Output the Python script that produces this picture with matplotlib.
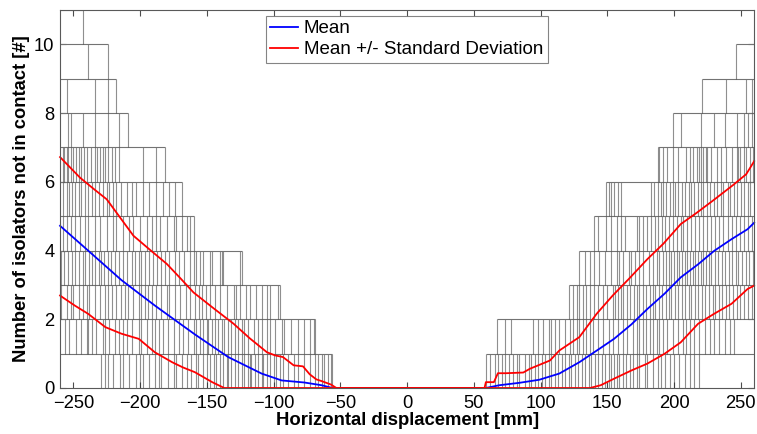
import matplotlib
matplotlib.use("Agg")
import matplotlib.pyplot as plt

plt.rcParams["font.family"] = ["Liberation Sans", "DejaVu Sans"]

# step positions [mm] of the grey simulation curves, one list per band (k-1 -> k)
left_steps = [
    [-229, -226, -224, -220, -215, -213, -208, -203, -200, -198, -193, -189, -186, -184, -179, -175,
     -173, -169, -165, -162, -158, -157, -153, -150, -148, -145, -143, -140, -138, -135, -134, -132,
     -129, -127, -124, -122, -119, -118, -117, -114, -112, -109, -108, -105, -103, -100, -98, -95,
     -93, -89, -85, -82, -77, -73, -69, -67, -64, -62, -59, -57, -56],
    [-256, -253, -248, -244, -240, -239, -236, -233, -228, -226, -223, -219, -216, -213, -210, -206,
     -201, -199, -195, -191, -189, -186, -183, -179, -175, -171, -168, -164, -160, -158, -155, -153,
     -150, -149, -146, -144, -142, -139, -137, -134, -132, -129, -127, -124, -122, -119, -115, -112,
     -109, -105, -103, -99, -94, -92, -87, -82, -77, -73, -70, -69],
    [-259, -255, -252, -250, -246, -243, -240, -238, -234, -230, -226, -224, -221, -218, -214, -211,
     -209, -205, -201, -199, -196, -194, -191, -188, -184, -180, -178, -174, -170, -166, -163, -159,
     -156, -154, -151, -148, -144, -140, -135, -130, -128, -125, -121, -118, -113, -109, -105, -103,
     -97, -95],
    [-259, -257, -254, -251, -249, -246, -243, -241, -238, -236, -234, -231, -229, -227, -224, -222,
     -219, -216, -213, -210, -206, -204, -201, -199, -196, -193, -190, -187, -184, -181, -178, -174,
     -171, -167, -163, -160, -158, -155, -153, -148, -146, -140, -139, -138, -125, -124],
    [-258, -255, -252, -249, -245, -241, -239, -234, -230, -225, -220, -218, -213, -208, -205, -200,
     -195, -191, -188, -185, -180, -175, -173, -169, -165, -163, -160],
    [-258, -255, -253, -251, -249, -246, -244, -241, -239, -236, -234, -231, -228, -225, -223, -220,
     -218, -214, -210, -206, -203, -198, -193, -188, -183, -178, -174, -169],
    [-258, -257, -255, -254, -252, -250, -248, -246, -244, -242, -240, -237, -234, -232, -230, -228,
     -226, -224, -221, -219, -216, -198, -188, -181],
    [-254, -252, -243, -234, -224, -216, -209],
    [-255, -234, -224, -218],
    [-239, -224],
    [-243],
]

right_steps = [
    [59, 62, 66, 68, 71, 73, 76, 79, 82, 84, 88, 91, 93, 96, 98, 101, 103, 106, 108, 111, 113, 116,
     118, 121, 123, 126, 128, 131, 133, 136, 138, 141, 143, 146, 148, 151, 153, 155, 157, 159, 162,
     164, 167, 169, 172, 174, 178, 180, 184, 188, 190, 193, 197, 200, 204, 208, 212, 215, 219],
    [67, 73, 78, 94, 98, 102, 106, 108, 111, 114, 118, 122, 124, 127, 129, 132, 134, 137, 139, 143,
     147, 151, 154, 158, 162, 165, 169, 172, 174, 177, 179, 182, 184, 187, 189, 192, 195, 199, 203,
     207, 209, 212, 215, 219, 223, 227, 230, 234, 238, 242, 245],
    [121, 124, 127, 129, 132, 134, 137, 140, 143, 147, 150, 154, 156, 158, 160, 162, 165, 167, 170,
     172, 174, 177, 179, 182, 184, 186, 189, 191, 194, 196, 198, 201, 203, 206, 208, 211, 213, 216,
     218, 221, 223, 226, 229, 231, 234, 236, 239, 241, 244, 247, 249, 252, 255, 258],
    [129, 133, 137, 140, 144, 148, 153, 157, 159, 162, 166, 168, 171, 174, 177, 181, 184, 187, 189,
     192, 194, 196, 198, 200, 202, 204, 206, 208, 210, 212, 214, 216, 218, 220, 222, 224, 226, 228,
     231, 233, 236, 238, 241, 243, 246, 248, 251, 254, 256, 259],
    [140, 143, 149, 153, 157, 160, 163, 172, 174, 177, 180, 183, 186, 188, 191, 193, 196, 199, 202,
     205, 207, 210, 213, 216, 219, 222, 225, 228, 231, 234, 237, 240, 243, 246, 249, 252, 255, 258],
    [149, 151, 153, 155, 158, 160, 183, 185, 188, 190, 192, 194, 197, 199, 201, 203, 206, 208, 211,
     213, 215, 218, 220, 222, 225, 227, 230, 232, 235, 237, 240, 242, 245, 247, 250, 252, 255, 257],
    [188, 189, 192, 195, 199, 203, 209, 212, 214, 217, 219, 220, 222, 224, 225, 228, 232, 235, 239,
     243, 247, 248, 249, 252, 254, 257, 259],
    [199, 205, 220, 230, 238, 247, 252, 255, 258],
    [221, 239, 254, 258],
    [246],
]

# mean and mean +/- std curves
mean_x = [-260, -239, -214, -189, -159, -134, -109, -94, -77, -64, -56,
          59, 69, 84, 99, 114, 129, 144, 155, 168, 180, 193, 205, 218, 230, 243, 255, 260]
mean_y = [4.72, 4.0, 3.14, 2.40, 1.56, 0.90, 0.42, 0.22, 0.16, 0.08, 0.0,
          0.0, 0.08, 0.15, 0.24, 0.42, 0.75, 1.14, 1.43, 1.85, 2.30, 2.75, 3.22, 3.60, 3.99, 4.33, 4.62, 4.81]

upper_x = [-260, -245, -235, -225, -215, -205, -192, -180, -170, -160, -145, -130, -118, -105, -99,
           -93, -85, -78, -73, -68, -64, -57, -53,
           58, 59, 65, 68, 74, 87, 92, 107, 114, 129, 142, 154, 166, 180, 192, 205, 217, 229, 244, 254, 260]
upper_y = [6.72, 6.12, 5.80, 5.49, 4.96, 4.43, 4.00, 3.61, 3.20, 2.78, 2.32, 1.87, 1.45, 1.04, 0.95,
           0.90, 0.66, 0.63, 0.40, 0.25, 0.20, 0.10, 0.0,
           0.0, 0.17, 0.17, 0.43, 0.43, 0.45, 0.56, 0.80, 1.09, 1.48, 2.16, 2.69, 3.17, 3.75, 4.20, 4.77,
           5.10, 5.45, 5.90, 6.22, 6.60]

lower_x = [-260, -249, -239, -226, -214, -201, -189, -176, -168, -159, -146, -137,
           137, 145, 155, 168, 180, 193, 205, 218, 230, 243, 255, 260]
lower_y = [2.69, 2.40, 2.16, 1.77, 1.58, 1.43, 1.04, 0.75, 0.60, 0.46, 0.17, 0.0,
           0.0, 0.08, 0.27, 0.51, 0.71, 1.0, 1.33, 1.87, 2.16, 2.45, 2.88, 2.98]

XMIN, XMAX = -260, 260

fig = plt.figure(figsize=(7.57, 4.34), dpi=100)
ax = fig.add_axes([0.0793, 0.106, 0.917, 0.871])

grey = dict(color="0.2", lw=0.8, alpha=0.55)
for k, xs in enumerate(left_steps, start=1):
    ax.vlines(xs, k - 1, k, **grey)
    ax.hlines(k, XMIN, max(xs), color="0.45", lw=0.8)
for k, xs in enumerate(right_steps, start=1):
    ax.vlines(xs, k - 1, k, **grey)
    ax.hlines(k, min(xs), XMAX, color="0.45", lw=0.8)

ax.plot(mean_x, mean_y, color="blue", lw=1.3, label="Mean", clip_on=False)
ax.plot(upper_x, upper_y, color="red", lw=1.3, label="Mean +/- Standard Deviation", clip_on=False)
ax.plot(lower_x, lower_y, color="red", lw=1.3, clip_on=False)

ax.set_xlim(XMIN, XMAX)
ax.set_ylim(0, 11)
ax.set_xticks(range(-250, 251, 50))
ax.set_yticks(range(0, 11, 2))
ax.tick_params(direction="in", top=True, right=True, labelsize=13.2, length=4, color="0.3")
ax.tick_params(axis="x", pad=5)
ax.tick_params(axis="y", pad=4)
for s in ax.spines.values():
    s.set_color("0.35")
    s.set_linewidth(0.8)

ax.set_xlabel("Horizontal displacement [mm]", fontsize=13.3, fontweight="bold", labelpad=0)
ax.set_ylabel("Number of isolators not in contact [#]", fontsize=13.2, fontweight="bold", labelpad=3)

leg = ax.legend(loc="upper left", bbox_to_anchor=(0.296, 0.985), fontsize=13.5, frameon=True,
                fancybox=False, edgecolor="0.4", handlelength=1.5, borderpad=0.25, labelspacing=0.2,
                handletextpad=0.3, borderaxespad=0)
leg.get_frame().set_linewidth(0.8)

fig.savefig("out.png", dpi=100)
